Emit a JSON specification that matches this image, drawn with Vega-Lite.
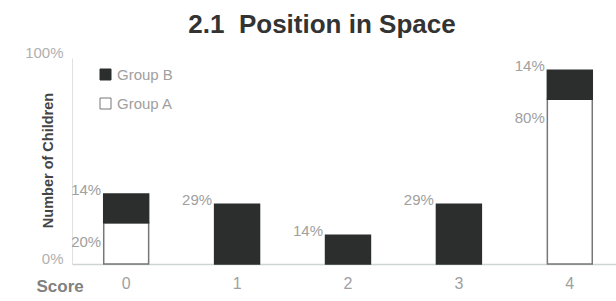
{
  "$schema": "https://vega.github.io/schema/vega-lite/v6.json",
  "autosize": "none",
  "width": 544,
  "height": 206,
  "padding": {"left": 72, "top": 58, "right": 0, "bottom": 37},
  "background": "white",
  "config": {"view": {"stroke": null}, "font": "Liberation Sans"},
  "title": {"text": "2.1\u00a0 Position in Space", "fontSize": 26, "fontWeight": "bold", "color": "#333333", "anchor": "middle", "frame": "group", "dx": -22, "offset": 7, "font": "Liberation Sans"},
  "data": {"values": [
    {"score": "0", "group": "Group A", "value": 0.20},
    {"score": "0", "group": "Group B", "value": 0.14},
    {"score": "1", "group": "Group B", "value": 0.29},
    {"score": "2", "group": "Group B", "value": 0.14},
    {"score": "3", "group": "Group B", "value": 0.29},
    {"score": "4", "group": "Group A", "value": 0.80},
    {"score": "4", "group": "Group B", "value": 0.14}
  ]},
  "encoding": {
    "x": {"field": "score", "type": "nominal", "sort": ["0", "1", "2", "3", "4"],
      "scale": {"paddingInner": 0.595, "paddingOuter": 0.25, "align": 0.572},
      "axis": {"title": "Score", "titleAnchor": "start", "titleAlign": "left", "titleX": -36, "titleY": 27, "titleBaseline": "alphabetic", "titleFontSize": 17, "titleFontWeight": "bold", "titleColor": "#808080", "labelAngle": 0, "labelFontSize": 16, "labelColor": "#a0a0a0", "labelPadding": 11, "ticks": false, "domainColor": "#cfd4d4", "domainWidth": 1.5}},
    "y": {"field": "value", "type": "quantitative", "stack": "zero",
      "scale": {"domain": [0, 1]},
      "axis": {"title": "Number of Children", "titleFontSize": 14.5, "titleFontWeight": "bold", "titleColor": "#444444", "titleX": -24, "titleY": 102, "titleAngle": -90, "titleAlign": "center", "titleBaseline": "middle", "values": [0, 1], "format": "%", "labelFontSize": 15, "labelColor": "#b0b0b0", "labelPadding": 9, "labelOffset": -6, "ticks": false, "grid": false, "domainColor": "#e0e0e0"}},
    "order": {"field": "group", "sort": "ascending"}
  },
  "layer": [
    {"mark": {"type": "bar", "strokeWidth": 1.5},
      "encoding": {
        "color": {"field": "group", "type": "nominal",
          "scale": {"domain": ["Group B", "Group A"], "range": ["#2b2e2d", "#ffffff"]},
          "legend": {"title": null, "orient": "none", "legendX": 26, "legendY": 9, "symbolType": "square", "symbolSize": 121, "symbolStrokeColor": "#555555", "symbolStrokeWidth": 1, "labelFontSize": 15, "labelColor": "#a0a0a0", "rowPadding": 13, "labelOffset": 4}},
        "stroke": {"field": "group", "type": "nominal", "scale": {"domain": ["Group B", "Group A"], "range": ["#2b2e2d", "#777777"]}, "legend": null}
      }},
    {"mark": {"type": "text", "align": "right", "baseline": "middle", "dx": -25, "dy": 19, "fontSize": 15, "color": "#a0a0a0"},
      "encoding": {
        "text": {"field": "value", "type": "quantitative", "format": ".0%"},
        "opacity": {"condition": {"test": "datum.group === 'Group A'", "value": 1}, "value": 0}
      }},
    {"mark": {"type": "text", "align": "right", "baseline": "middle", "dx": -25, "dy": -4, "fontSize": 15, "color": "#a0a0a0"},
      "encoding": {
        "text": {"field": "value", "type": "quantitative", "format": ".0%"},
        "opacity": {"condition": {"test": "datum.group === 'Group B'", "value": 1}, "value": 0}
      }}
  ]
}
